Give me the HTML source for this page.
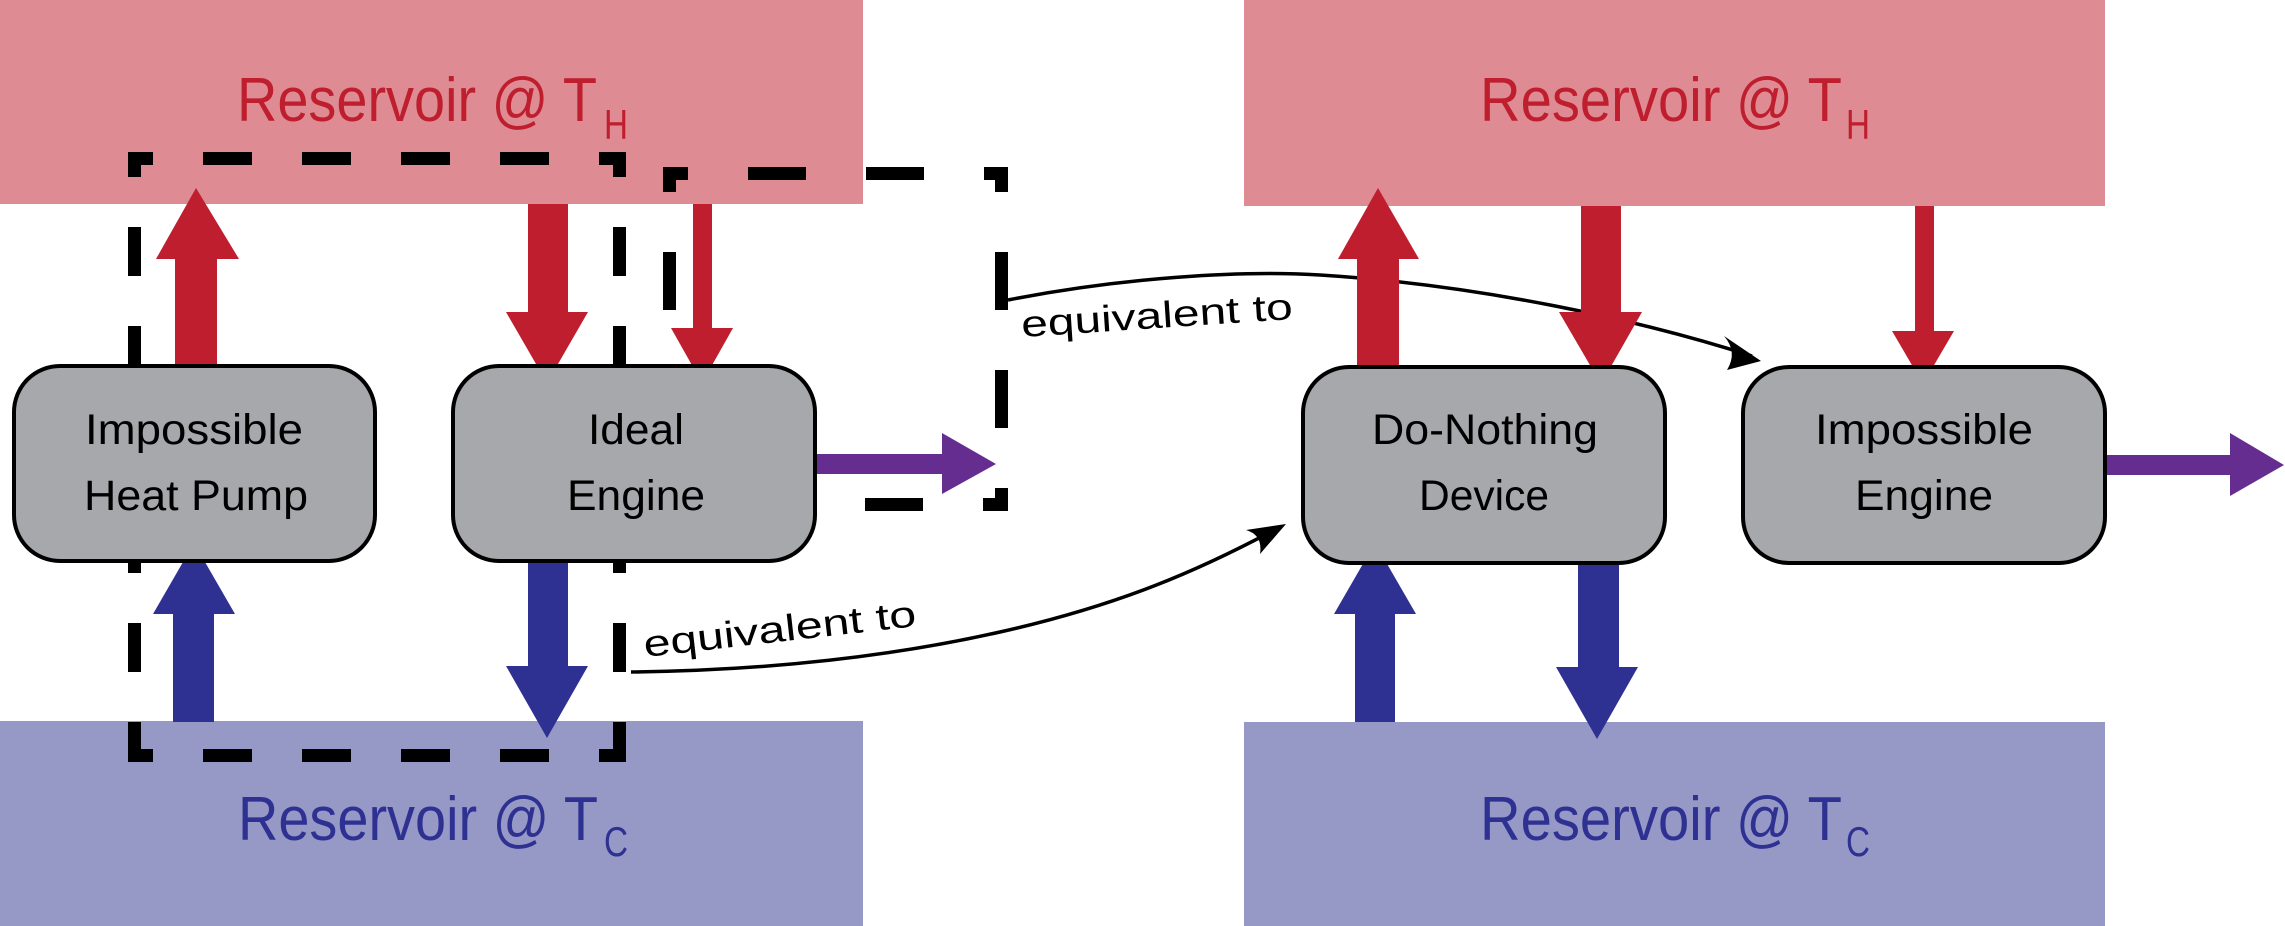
<!DOCTYPE html>
<html><head><meta charset="utf-8"><style>html,body{margin:0;padding:0;background:#fff}svg{display:block}</style></head>
<body>
<svg width="2285" height="926" viewBox="0 0 2285 926" xmlns="http://www.w3.org/2000/svg" font-family="'Liberation Sans', sans-serif">
<!-- reservoirs -->
<rect x="0" y="0" width="863" height="204" fill="#df8b93"/>
<rect x="0" y="721" width="863" height="205" fill="#9698c6"/>
<rect x="1244" y="0" width="861" height="206" fill="#df8b93"/>
<rect x="1244" y="722" width="861" height="204" fill="#9698c6"/>
<g font-size="62" fill="#be1e2d">
<text x="237" y="121" textLength="360" lengthAdjust="spacingAndGlyphs">Reservoir @ T</text>
<text x="604" y="139" font-size="42" textLength="24" lengthAdjust="spacingAndGlyphs">H</text>
<text x="1480" y="121" textLength="362" lengthAdjust="spacingAndGlyphs">Reservoir @ T</text>
<text x="1846" y="139" font-size="42" textLength="24" lengthAdjust="spacingAndGlyphs">H</text>
</g>
<g font-size="62" fill="#2e3192">
<text x="238" y="840" textLength="360" lengthAdjust="spacingAndGlyphs">Reservoir @ T</text>
<text x="604" y="856" font-size="42" textLength="24" lengthAdjust="spacingAndGlyphs">C</text>
<text x="1480" y="840" textLength="362" lengthAdjust="spacingAndGlyphs">Reservoir @ T</text>
<text x="1846" y="856" font-size="42" textLength="24" lengthAdjust="spacingAndGlyphs">C</text>
</g>
<!-- curves -->
<path d="M1008 300 C1120 278 1240 270 1320 275 C1480 285 1640 320 1752 356" fill="none" stroke="#000" stroke-width="3.5"/>
<path d="M1761 361 L1724 336 Q1738 352 1727 370 Z" fill="#000"/>
<path d="M631 672 C800 670 920 650 1000 632 C1120 605 1200 570 1278 528" fill="none" stroke="#000" stroke-width="3.5"/>
<path d="M1286 524 L1246 530 Q1263 535 1260 554 Z" fill="#000"/>
<g font-size="37" fill="#000">
<text x="645" y="657" transform="rotate(-6.5 645 657)" textLength="274" lengthAdjust="spacingAndGlyphs">equivalent to</text>
<text x="1022" y="337" transform="rotate(-3.8 1022 337)" textLength="272" lengthAdjust="spacingAndGlyphs">equivalent to</text>
</g>
<!-- dashed boxes -->
<g fill="none" stroke="#000" stroke-width="13" stroke-dasharray="49 50" stroke-dashoffset="24">
<path d="M128 158.5 H626"/>
<path d="M128 755.5 H626"/>
<path d="M134.5 152 V762"/>
<path d="M619.5 152 V762"/>
</g>
<g fill="none" stroke="#000" stroke-width="13" stroke-dasharray="58 60" stroke-dashoffset="33">
<path d="M663 173.5 H1008"/>
<path d="M1008 504.5 H663"/>
<path d="M669.5 167 V511"/>
<path d="M1001.5 167 V511"/>
</g>
<!-- arrows -->
<g fill="#be1e2d">
<polygon points="175,366 217,366 217,259 239,259 196,188 156,259 175,259"/>
<polygon points="528,204 568,204 568,312 588,312 547,383 506,312 528,312"/>
<polygon points="693,204 712,204 712,328 733,328 702,383 671,328 693,328"/>
<polygon points="1357,366 1399,366 1399,259 1419,259 1378,188 1338,259 1357,259"/>
<polygon points="1581,206 1621,206 1621,312 1642,312 1601,384 1559,312 1581,312"/>
<polygon points="1915,206 1934,206 1934,331 1954,331 1923,384 1892,331 1915,331"/>
</g>
<g fill="#2e3192">
<polygon points="173,722 214,722 214,614 235,614 194,543 153,614 173,614"/>
<polygon points="528,560 568,560 568,666 588,666 547,738 506,666 528,666"/>
<polygon points="1355,722 1395,722 1395,614 1416,614 1375,543 1334,614 1355,614"/>
<polygon points="1578,560 1619,560 1619,667 1638,667 1597,739 1556,667 1578,667"/>
</g>
<g fill="#662d91">
<polygon points="815,454 942,454 942,433 996,464 942,494 942,474 815,474"/>
<polygon points="2105,455 2230,455 2230,433 2284,465 2230,496 2230,475 2105,475"/>
</g>
<!-- boxes -->
<g fill="#a7a8ab" stroke="#000" stroke-width="4">
<rect x="14" y="366" width="361" height="195" rx="46"/>
<rect x="453" y="366" width="362" height="195" rx="46"/>
<rect x="1303" y="367" width="362" height="196" rx="46"/>
<rect x="1743" y="367" width="362" height="196" rx="46"/>
</g>
<g font-size="43" fill="#000" text-anchor="middle">
<text x="194" y="444" textLength="218" lengthAdjust="spacingAndGlyphs">Impossible</text>
<text x="196" y="510" textLength="224" lengthAdjust="spacingAndGlyphs">Heat Pump</text>
<text x="636" y="444" textLength="96" lengthAdjust="spacingAndGlyphs">Ideal</text>
<text x="636" y="510" textLength="138" lengthAdjust="spacingAndGlyphs">Engine</text>
<text x="1485" y="444" textLength="226" lengthAdjust="spacingAndGlyphs">Do-Nothing</text>
<text x="1484" y="510" textLength="130" lengthAdjust="spacingAndGlyphs">Device</text>
<text x="1924" y="444" textLength="218" lengthAdjust="spacingAndGlyphs">Impossible</text>
<text x="1924" y="510" textLength="138" lengthAdjust="spacingAndGlyphs">Engine</text>
</g>
</svg>
</body></html>
